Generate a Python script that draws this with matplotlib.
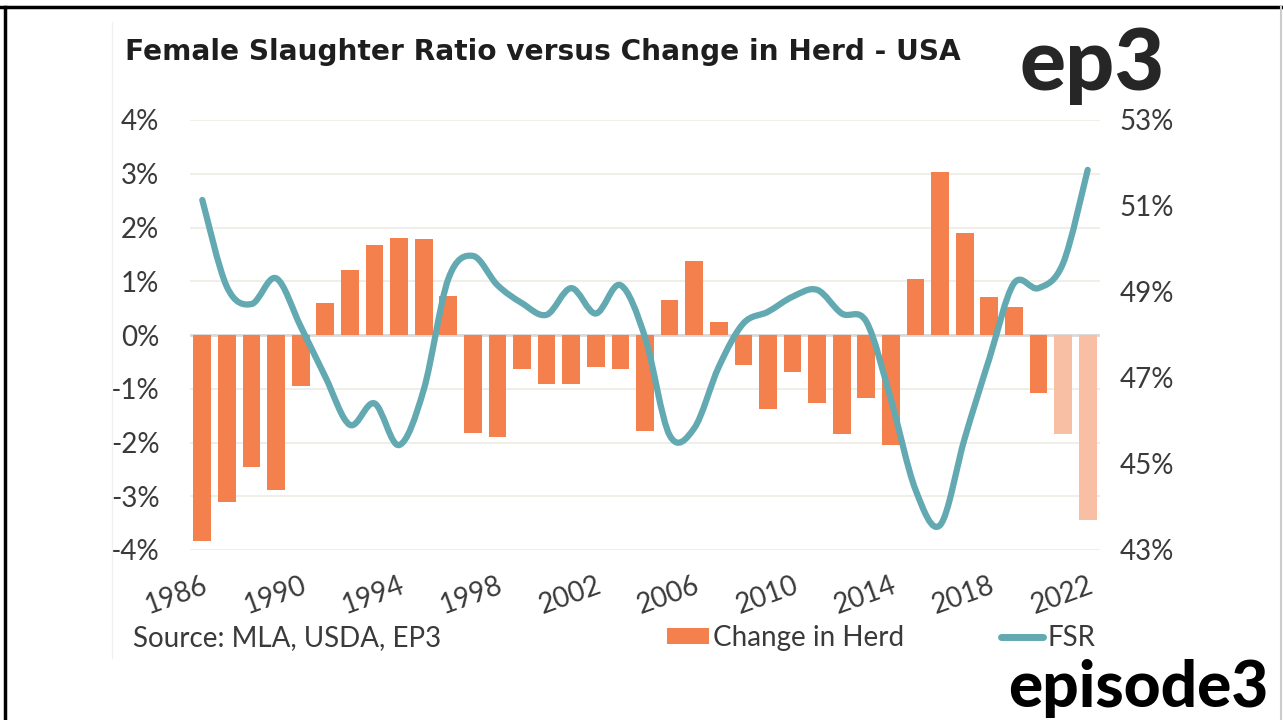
import matplotlib
matplotlib.use("Agg")
import matplotlib.pyplot as plt
from matplotlib.path import Path
from matplotlib.patches import PathPatch, Patch
from matplotlib.lines import Line2D
from matplotlib.ticker import FuncFormatter

plt.rcParams['font.family'] = ['Lato', 'DejaVu Sans']

years = list(range(1986, 2023))
herd_change = [-3.84, -3.11, -2.45, -2.88, -0.95,
               0.59, 1.21, 1.67, 1.81, 1.79,
               0.73, -1.83, -1.89, -0.64, -0.92,
               -0.92, -0.60, -0.64, -1.78, 0.65,
               1.38, 0.24, -0.56, -1.38, -0.68,
               -1.27, -1.85, -1.18, -2.05, 1.04,
               3.04, 1.89, 0.71, 0.53, -1.07,
               -1.85, -3.44]
forecast_years = [2021, 2022]
fsr = [51.14, 49.12, 48.72, 49.32, 48.2,
       47.03, 45.91, 46.41, 45.44, 46.72,
       49.3, 49.84, 49.16, 48.74, 48.47,
       49.09, 48.50, 49.16, 47.95, 45.67,
       45.83, 47.26, 48.27, 48.54, 48.89,
       49.05, 48.50, 48.31, 46.5, 44.4,
       43.58, 45.6, 47.45, 49.20, 49.09,
       49.67, 51.84]
x_labels = [str(y) for y in range(1986, 2023, 4)]

ORANGE = '#F4804E'
ORANGE_LIGHT = '#F9BFA5'
TEAL = '#62A9B1'
TXT = '#3a3a3a'

fig = plt.figure(figsize=(12.83, 7.2), dpi=100)
W, H = 1283, 720
ax = fig.add_axes([190 / W, 1 - 550 / H, 910 / W, 430 / H])
ax2 = ax.twinx()

idx = list(range(len(years)))
colors = [ORANGE_LIGHT if y in forecast_years else ORANGE for y in years]
ax.bar(idx, herd_change, width=0.72, color=colors, zorder=2)
ax.axhline(0, color='#d9d9d9', lw=2, zorder=1.5)

ax.set_xlim(-0.5, len(years) - 0.5)
ax.set_ylim(-4, 4)
ax.set_yticks(range(-4, 5))
ax.yaxis.set_major_formatter(FuncFormatter(lambda v, p: f'{v:.0f}%'))
ax.grid(axis='y', color='#eeeee5', lw=1.3)
ax.set_axisbelow(True)

tick_pos = [years.index(int(s)) for s in x_labels]
ax.set_xticks(tick_pos)
ax.set_xticklabels(x_labels, rotation=20, ha='right', va='top',
                   rotation_mode='anchor')

ax2.set_ylim(43, 53)
ax2.set_yticks(range(43, 54, 2))
ax2.yaxis.set_major_formatter(FuncFormatter(lambda v, p: f'{v:.0f}%'))

for a in (ax, ax2):
    for s in a.spines.values():
        s.set_visible(False)
    a.tick_params(length=0, labelsize=20, labelcolor=TXT)
ax.tick_params(axis='y', pad=22)
ax.tick_params(axis='x', pad=16)
ax2.tick_params(axis='y', pad=14)

# smoothed FSR line (cubic bezier segments through the yearly points)
pts = list(zip(idx, fsr))
verts = [pts[0]]
codes = [Path.MOVETO]
for i in range(len(pts) - 1):
    p0 = pts[i - 1] if i > 0 else pts[i]
    p1 = pts[i]
    p2 = pts[i + 1]
    p3 = pts[i + 2] if i + 2 < len(pts) else pts[i + 1]
    c1 = (p1[0] + (p2[0] - p0[0]) / 6, p1[1] + (p2[1] - p0[1]) / 6)
    c2 = (p2[0] - (p3[0] - p1[0]) / 6, p2[1] - (p3[1] - p1[1]) / 6)
    verts += [c1, c2, p2]
    codes += [Path.CURVE4] * 3
ax2.add_patch(PathPatch(Path(verts, codes), fill=False, edgecolor=TEAL,
                        lw=4.5, capstyle='round', joinstyle='round', zorder=3))

fig.text(125 / W, 1 - 52 / H, 'Female Slaughter Ratio versus Change in Herd - USA',
         fontsize=20.2, fontweight='bold', color='#1e1e1e', va='center',
         family='DejaVu Sans')
fig.text(1020 / W, 1 - 90 / H, 'ep3', fontsize=62, fontweight='black',
         color='#262626', va='baseline')
fig.text(1008 / W, 1 - 707 / H, 'episode3', fontsize=46, fontweight='black',
         color='#000000', va='baseline')
fig.text(133 / W, 1 - 638 / H, 'Source: MLA, USDA, EP3', fontsize=20,
         color=TXT, va='center')

handles = [Patch(facecolor=ORANGE, edgecolor='none'),
           Line2D([0], [0], color=TEAL, lw=5, solid_capstyle='round')]
fig.legend(handles, ['Change in Herd', 'FSR'], loc='center left',
           bbox_to_anchor=(667 / W, 1 - 638 / H), ncol=2, frameon=False,
           fontsize=20, handlelength=1.5, handleheight=0.5, handletextpad=0.15,
           columnspacing=3.5, borderpad=0, borderaxespad=0,
           labelcolor=TXT)

# frame lines of the screenshot
fig.add_artist(Line2D([0, 1], [1 - 7 / H, 1 - 7 / H], color='black', lw=2.5))
fig.add_artist(Line2D([5 / W, 5 / W], [0, 1 - 7 / H], color='black', lw=2.5))
fig.add_artist(Line2D([1281 / W, 1281 / W], [0, 1 - 7 / H], color='#cccccc', lw=1.5))
fig.add_artist(Line2D([112 / W, 112 / W], [1 - 658 / H, 1 - 22 / H],
                      color='#f0f0f0', lw=1))

fig.savefig('out.png', dpi=100)
